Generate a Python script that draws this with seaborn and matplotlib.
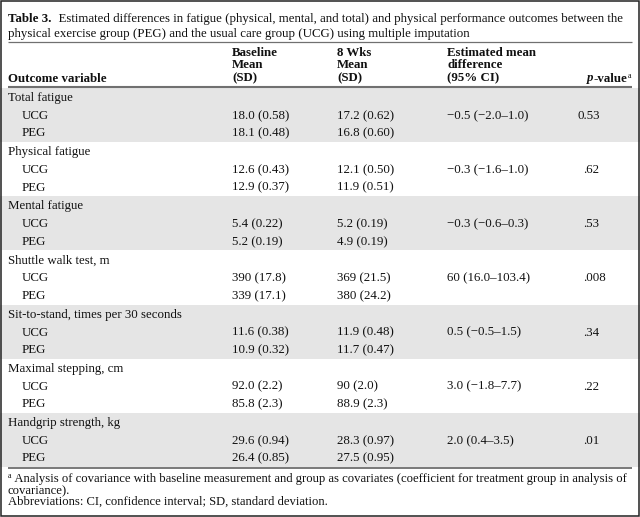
import matplotlib
matplotlib.use("Agg")
import matplotlib.pyplot as plt
from matplotlib.colors import ListedColormap
from matplotlib.patches import Rectangle
import numpy as np
import seaborn as sns

# ---------------- data ----------------
caption_bold = "Table 3."
caption_rest1 = "  Estimated differences in fatigue (physical, mental, and total) and physical performance outcomes between the"
caption_line2 = "physical exercise group (PEG) and the usual care group (UCG) using multiple imputation"

outcomes = ["Total fatigue", "Physical fatigue", "Mental fatigue",
            "Shuttle walk test, m", "Sit-to-stand, times per 30 seconds",
            "Maximal stepping, cm", "Handgrip strength, kg"]
groups = ["UCG", "PEG"]
ucg_base = ["18.0 (0.58)", "12.6 (0.43)", "5.4 (0.22)", "390 (17.8)",
            "11.6 (0.38)", "92.0 (2.2)", "29.6 (0.94)"]
peg_base = ["18.1 (0.48)", "12.9 (0.37)", "5.2 (0.19)", "339 (17.1)",
            "10.9 (0.32)", "85.8 (2.3)", "26.4 (0.85)"]
ucg_8wk = ["17.2 (0.62)", "12.1 (0.50)", "5.2 (0.19)", "369 (21.5)",
           "11.9 (0.48)", "90 (2.0)", "28.3 (0.97)"]
peg_8wk = ["16.8 (0.60)", "11.9 (0.51)", "4.9 (0.19)", "380 (24.2)",
           "11.7 (0.47)", "88.9 (2.3)", "27.5 (0.95)"]
mean_diff = ["\u22120.5 (\u22122.0\u20131.0)", "\u22120.3 (\u22121.6\u20131.0)",
             "\u22120.3 (\u22120.6\u20130.3)", "60 (16.0\u2013103.4)",
             "0.5 (\u22120.5\u20131.5)", "3.0 (\u22121.8\u20137.7)", "2.0 (0.4\u20133.5)"]
p_values = ["0.53", ".62", ".53", ".008", ".34", ".22", ".01"]

header_cols = [["Baseline", "Mean", "(SD)"],
               ["8 Wks", "Mean", "(SD)"],
               ["Estimated mean", "difference", "(95% CI)"]]
footnote1 = " Analysis of covariance with baseline measurement and group as covariates (coefficient for treatment group in analysis of"
footnote2 = "covariance)."
footnote3 = "Abbreviations: CI, confidence interval; SD, standard deviation."

# ---------------- style ----------------
sns.set_theme(style="white")
plt.rcParams["font.family"] = ["Liberation Serif", "DejaVu Serif"]
TXT = "#111111"
FS = 9.3
FFS = 9.1
SUP = 5.8
W, H = 640, 517

fig = plt.figure(figsize=(W / 100, H / 100), dpi=100)

# shaded bands (alternating groups) via seaborn heatmap
band_top, band_bot = 88, 467
n = len(outcomes)
shade = np.array([[1 - (i % 2)] for i in range(n)])
bax = fig.add_axes([0, 1 - band_bot / H, 1, (band_bot - band_top) / H])
sns.heatmap(shade, ax=bax, cmap=ListedColormap(["white", "#e5e5e5"]),
            cbar=False, xticklabels=False, yticklabels=False, vmin=0, vmax=1)
bax.set_axis_off()

ax = fig.add_axes([0, 0, 1, 1])
ax.set_xlim(0, W)
ax.set_ylim(H, 0)
ax.patch.set_alpha(0)
ax.set_axis_off()

renderer = fig.canvas.get_renderer()


def runs(x, y, parts, ha="left"):
    """parts: list of (text, weight, style, size, dy)."""
    arts = []
    cx = x
    for s, wt, st, sz, dy in parts:
        t = ax.text(cx, y + dy, s, fontsize=sz, fontweight=wt, fontstyle=st,
                    color=TXT, ha="left", va="baseline")
        w = t.get_window_extent(renderer).width
        arts.append(t)
        cx += w
    if ha == "right":
        shift = cx - x
        for t in arts:
            px, py = t.get_position()
            t.set_position((px - shift, py))


def txt(x, y, s, **kw):
    kw.setdefault("fontsize", FS)
    kw.setdefault("color", TXT)
    ax.text(x, y, s, va="baseline", **kw)


BL = 4  # baseline offset from visual centre

# caption
runs(8, 18 + BL, [(caption_bold, "bold", "normal", FS, 0),
                  (caption_rest1, "normal", "normal", FS, 0)])
txt(8, 33 + BL, caption_line2)
ax.plot([8, 632], [42, 42], color="#707070", lw=0.9, solid_capstyle="butt")

# header
col_x = [232, 337, 447]
hdr_y = [51.5, 64.5, 77.5]
for cx, lines in zip(col_x, header_cols):
    for yy, s in zip(hdr_y, lines):
        txt(cx, yy + BL, s, fontweight="bold")
txt(8, 77.5 + BL, "Outcome variable", fontweight="bold")
runs(631, 77.5 + BL, [("p", "bold", "italic", FS, 0),
                      ("-value", "bold", "normal", FS, 0),
                      ("a", "normal", "normal", SUP, -4)], ha="right")
ax.plot([8, 632], [86.5, 86.5], color="#707070", lw=1.5, solid_capstyle="butt")

# body
gh = (band_bot - band_top) / n
for i in range(n):
    top = band_top + i * gh
    y0, y1, y2 = top + 9 + BL, top + 27 + BL, top + 44.5 + BL
    txt(8, y0, outcomes[i])
    txt(22, y1, groups[0])
    txt(22, y2, groups[1])
    txt(col_x[0], y1, ucg_base[i])
    txt(col_x[0], y2, peg_base[i])
    txt(col_x[1], y1, ucg_8wk[i])
    txt(col_x[1], y2, peg_8wk[i])
    txt(col_x[2], y1, mean_diff[i])
    px = 583 if p_values[i].startswith(".") else 578
    txt(px, y1, p_values[i])

# footer
ax.plot([8, 632], [468, 468], color="#555555", lw=1.1, solid_capstyle="butt")
runs(8, 478 + BL, [("a", "normal", "normal", SUP, -3.5),
                   (footnote1, "normal", "normal", FFS, 0)])
txt(8, 490 + BL, footnote2, fontsize=FFS)
txt(8, 501 + BL, footnote3, fontsize=FFS)

# outer frame
ax.add_patch(Rectangle((0.75, 0.75), W - 1.5, H - 1.5, fill=False,
                       edgecolor="#222222", lw=1.1))

fig.savefig("out.png", dpi=100)
